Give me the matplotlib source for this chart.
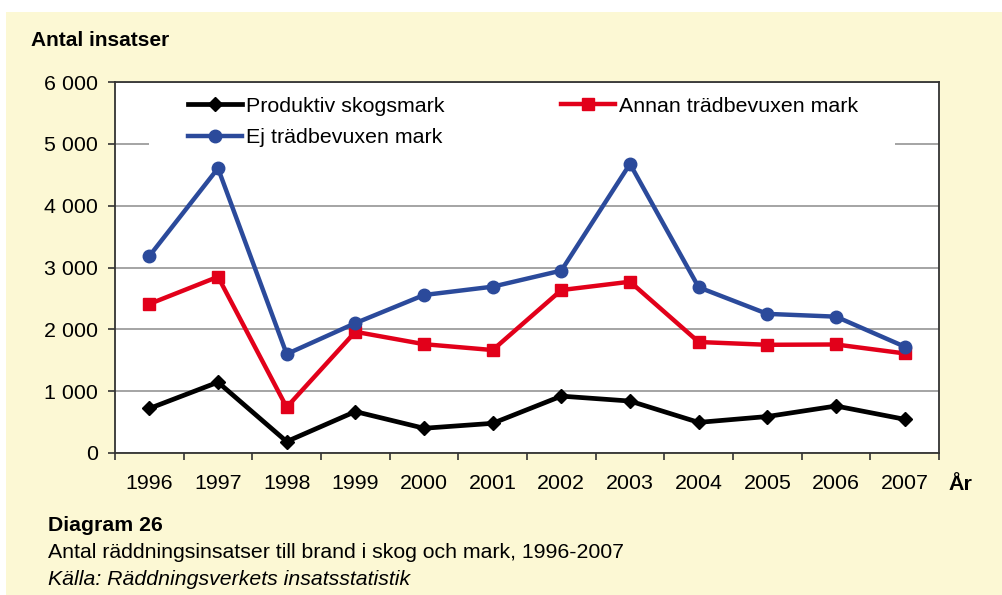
import matplotlib
matplotlib.use("Agg")
import matplotlib.pyplot as plt
from matplotlib.patches import Rectangle

plt.rcParams['font.family'] = ['Liberation Sans', 'DejaVu Sans']

years = ["1996", "1997", "1998", "1999", "2000", "2001",
         "2002", "2003", "2004", "2005", "2006", "2007"]
produktiv = [720, 1145, 185, 670, 400, 480, 920, 840, 495, 590, 760, 545]
annan = [2410, 2850, 740, 1960, 1760, 1665, 2635, 2770, 1795, 1750, 1755, 1610]
ej = [3185, 4605, 1600, 2100, 2555, 2690, 2950, 4675, 2680, 2250, 2205, 1720]
ytick_values = [0, 1000, 2000, 3000, 4000, 5000, 6000]
ytick_labels = ["0", "1 000", "2 000", "3 000", "4 000", "5 000", "6 000"]

W, H = 1003, 595
fig = plt.figure(figsize=(W / 100, H / 100), dpi=100)
fig.patch.set_facecolor("white")
bg = Rectangle((6 / W, 0), 1 - 6 / W, 1 - 12 / H,
               transform=fig.transFigure, facecolor="#FCF8D4",
               edgecolor="none", zorder=-10)
fig.patches.append(bg)

left, right, top, bottom = 115, 939, 82, 453
ax = fig.add_axes([left / W, 1 - bottom / H, (right - left) / W, (bottom - top) / H])
ax.set_zorder(1)
ax.set_facecolor("white")

x = list(range(len(years)))
l1, = ax.plot(x, produktiv, color="black", lw=3.4, marker="D", ms=7,
              label="Produktiv skogsmark", zorder=4)
l2, = ax.plot(x, annan, color="#E2001A", lw=3.2, marker="s", ms=8.5,
              label="Annan trädbevuxen mark", zorder=3)
l3, = ax.plot(x, ej, color="#2B4A9B", lw=3.2, marker="o", ms=9,
              label="Ej trädbevuxen mark", zorder=3.5)

ax.set_xlim(-0.5, len(years) - 0.5)
ax.set_ylim(0, 6000)
ax.set_yticks(ytick_values)
ax.set_yticklabels(ytick_labels)
ax.set_xticks(x)
ax.set_xticklabels(years)
ax.set_xticks([i - 0.5 for i in range(len(years) + 1)], minor=True)
ax.tick_params(axis="x", which="major", length=0, pad=15, labelsize=15.4)
ax.tick_params(axis="x", which="minor", length=5, width=1.2, color="#333333", direction="out")
ax.tick_params(axis="y", which="major", length=5, width=1.2, color="#333333",
               pad=7, labelsize=15.4)
ax.yaxis.grid(True, color="#8C8C8C", lw=1.1, zorder=1)
ax.set_axisbelow(True)
for s in ax.spines.values():
    s.set_color("#333333")
    s.set_linewidth(1.3)

# white area behind legend
ax.add_patch(Rectangle(((149 - left) / (right - left), (bottom - 152) / (bottom - top)),
                       (895 - 149) / (right - left), (152 - 86) / (bottom - top),
                       transform=ax.transAxes, facecolor="white", edgecolor="none", zorder=1.5))

leg = ax.legend(handles=[l1, l3, l2], ncol=2, mode="expand", frameon=False,
                loc="upper left",
                bbox_to_anchor=((188 - left) / (right - left), 0.96,
                                (858 - 188) / (right - left), 0.0),
                borderpad=0, borderaxespad=0, handlelength=2.52, handletextpad=0.2,
                labelspacing=0.59, fontsize=15.4)

fig.text(31 / W, 1 - 46 / H, "Antal insatser", fontsize=15, fontweight="bold",
         ha="left", va="baseline")
fig.text(949 / W, 1 - 490 / H, "År", fontsize=15.4, fontweight="bold",
         ha="left", va="baseline")
fig.text(48 / W, 1 - 531 / H, "Diagram 26", fontsize=15.3, fontweight="bold",
         ha="left", va="baseline")
fig.text(48 / W, 1 - 558 / H, "Antal räddningsinsatser till brand i skog och mark, 1996-2007",
         fontsize=15.3, ha="left", va="baseline")
fig.text(48 / W, 1 - 585 / H, "Källa: Räddningsverkets insatsstatistik",
         fontsize=15.3, style="italic", ha="left", va="baseline")

fig.savefig("out.png", dpi=100, facecolor=fig.get_facecolor())
